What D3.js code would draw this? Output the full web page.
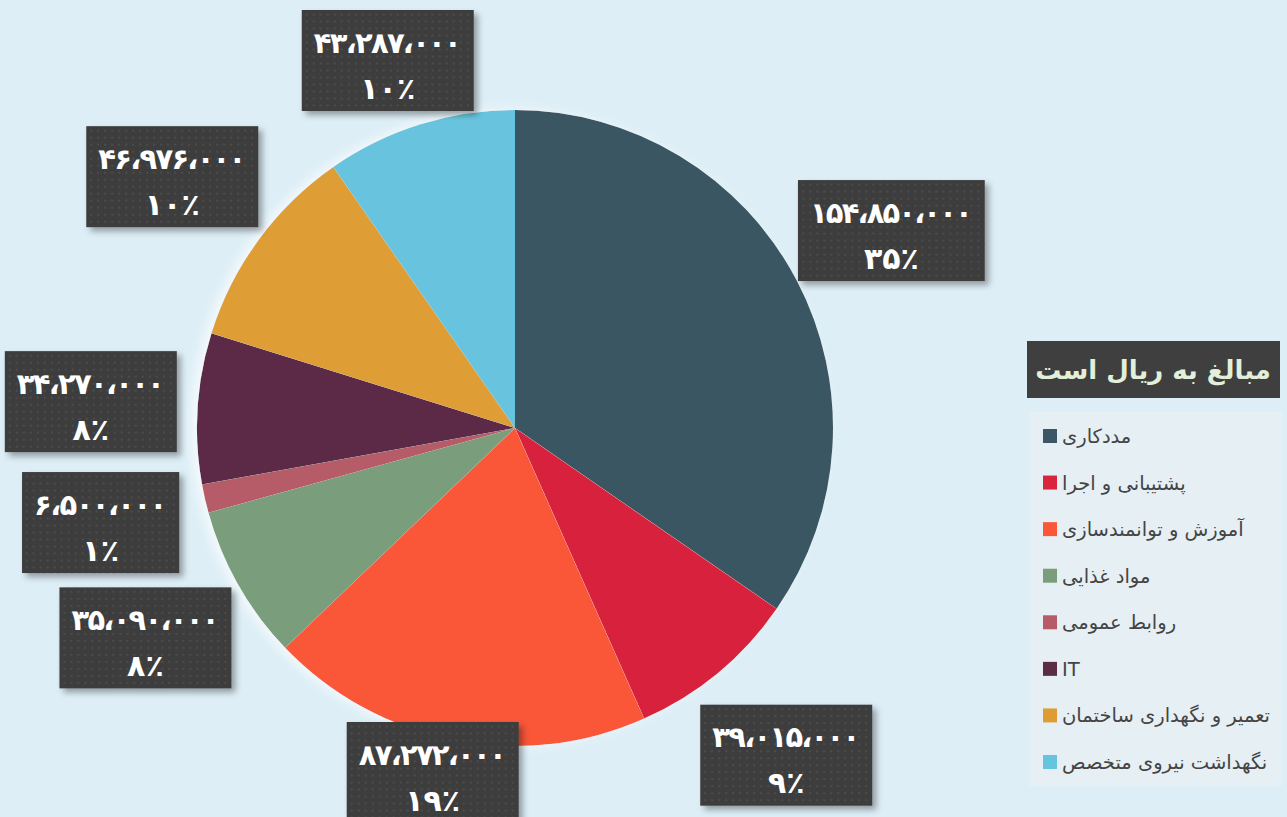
<!DOCTYPE html>
<html>
<head>
<meta charset="utf-8">
<script src="https://cdn.jsdelivr.net/npm/d3@7"></script>
<style>
  html, body { margin: 0; padding: 0; background: #ddeef6; overflow: hidden; }
  svg { display: block; }
</style>
</head>
<body>
<script>
// categories (legend order, clockwise from 12 o'clock)
var categories = ["مددکاری", "پشتیبانی و اجرا", "آموزش و توانمندسازی", "مواد غذایی",
                  "روابط عمومی", "IT", "تعمیر و نگهداری ساختمان", "نگهداشت نیروی متخصص"];
var amounts = [154850000, 39015000, 87272000, 35090000, 6500000, 34270000, 46976000, 43287000];
var percents = [35, 9, 19, 8, 1, 8, 10, 10];
var colors = ["#3b5664", "#d8243c", "#fa5738", "#7a9e7b", "#b65b67", "#5c2c47", "#de9d34", "#67c4de"];
var legendTitle = "مبالغ به ریال است";

const width = 1287, height = 817;
const cx = 515, cy = 428, radius = 318;

// persian digits + arabic comma
const fa = "۰۱۲۳۴۵۶۷۸۹";
function toFa(s) { return String(s).replace(/[0-9]/g, d => fa[+d]); }
function fmtAmount(v) { return toFa(d3.format(",")(v).replace(/,/g, "،")); }

const svg = d3.select("body").append("svg")
    .attr("width", width)
    .attr("height", height);

const defs = svg.append("defs");

// dotted texture for the label boxes
const pat = defs.append("pattern")
    .attr("id", "dots")
    .attr("width", 7).attr("height", 7)
    .attr("patternUnits", "userSpaceOnUse");
pat.append("rect").attr("width", 7).attr("height", 7).attr("fill", "#3d3d3d");
pat.append("rect").attr("x", 2).attr("y", 2).attr("width", 2).attr("height", 2).attr("fill", "#4c4c4c");

const shadow = defs.append("filter").attr("id", "shadow")
    .attr("x", "-20%").attr("y", "-20%").attr("width", "140%").attr("height", "140%");
shadow.append("feDropShadow")
    .attr("dx", 4).attr("dy", 4).attr("stdDeviation", 3)
    .attr("flood-color", "#000").attr("flood-opacity", 0.35);

const glow = defs.append("filter").attr("id", "glow")
    .attr("x", "-20%").attr("y", "-20%").attr("width", "140%").attr("height", "140%");
glow.append("feDropShadow")
    .attr("dx", -6).attr("dy", 0).attr("stdDeviation", 6)
    .attr("flood-color", "#ffffff").attr("flood-opacity", 0.7);

// background
svg.append("rect").attr("width", width).attr("height", height).attr("fill", "#ddeef6");

const pie = d3.pie().sort(null).value(d => d);
const arcs = pie(amounts);

const arc = d3.arc().innerRadius(0).outerRadius(radius);

const g = svg.append("g").attr("transform", "translate(" + cx + "," + cy + ")");

g.append("g").attr("filter", "url(#glow)")
  .selectAll("path")
  .data(arcs)
  .enter()
  .append("path")
    .attr("d", arc)
    .attr("fill", (d, i) => colors[i]);

// data labels
const labelArc = d3.arc().innerRadius(425).outerRadius(425);
const boxH = 101;

const labels = g.selectAll("g.lbl")
    .data(arcs)
    .enter()
    .append("g")
    .attr("class", "lbl");

labels.each(function(d, i) {
  const lg = d3.select(this);
  const txt = fmtAmount(amounts[i]);
  const tl = txt.length * 14.8;
  const w = tl + 24;
  lg.append("rect")
      .attr("fill", "url(#dots)")
      .attr("filter", "url(#shadow)")
      .attr("x", -w / 2).attr("y", -boxH / 2)
      .attr("width", w).attr("height", boxH);
  lg.append("text")
      .attr("text-anchor", "middle")
      .attr("y", -8)
      .attr("font-family", "DejaVu Sans")
      .attr("font-weight", "bold")
      .attr("font-size", 29)
      .attr("textLength", tl)
      .attr("lengthAdjust", "spacing")
      .attr("fill", "#fff")
      .text(txt);
  lg.append("text")
      .attr("text-anchor", "middle")
      .attr("y", 38)
      .attr("font-family", "DejaVu Sans")
      .attr("font-weight", "bold")
      .attr("font-size", 30)
      .attr("fill", "#fff")
      .text(toFa(percents[i]) + "٪");

  let [x, y] = labelArc.centroid(d);
  // keep boxes inside the chart area
  y = Math.max(y, -cy + boxH / 2 + 10);
  y = Math.min(y, height - cy - boxH / 2 + 6);
  lg.attr("transform", "translate(" + x + "," + y + ")");
});

// legend title
const lt = svg.append("g").attr("transform", "translate(1027,341)");
lt.append("rect").attr("width", 253).attr("height", 57).attr("fill", "#3f3f3f");
lt.append("text")
    .attr("x", 126).attr("y", 38)
    .attr("text-anchor", "middle")
    .attr("font-family", "DejaVu Sans")
    .attr("font-weight", "bold")
    .attr("font-size", 26)
    .attr("fill", "#e2efda")
    .text(legendTitle);

// legend
const lgd = svg.append("g").attr("transform", "translate(1029,412)");
lgd.append("rect").attr("width", 253).attr("height", 374).attr("fill", "#e6eff4");

const y = d3.scalePoint().domain(categories).range([24, 350]);

const items = lgd.selectAll("g.item")
    .data(categories)
    .enter()
    .append("g")
    .attr("class", "item")
    .attr("transform", d => "translate(0," + y(d) + ")");

items.append("rect")
    .attr("x", 14).attr("y", -7)
    .attr("width", 14).attr("height", 14)
    .attr("fill", (d, i) => colors[i]);

items.append("text")
    .attr("x", 33).attr("y", 7)
    .attr("font-family", "DejaVu Sans")
    .attr("font-size", 19.5)
    .attr("fill", "#444")
    .attr("direction", "ltr")
    .text(d => d);
</script>
</body>
</html>
